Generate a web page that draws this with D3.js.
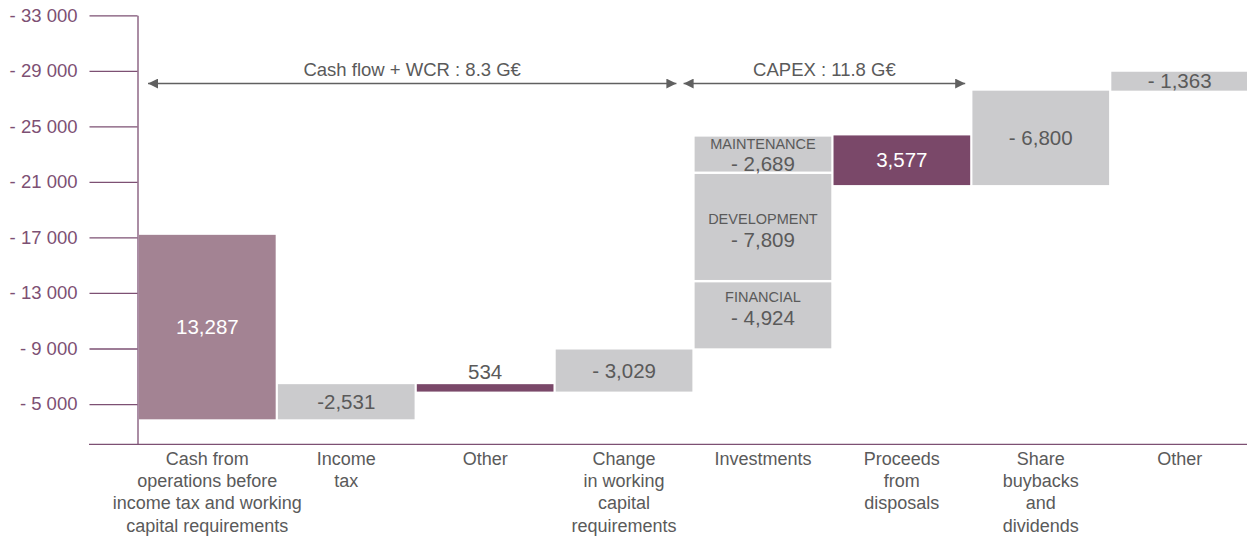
<!DOCTYPE html>
<html><head><meta charset="utf-8">
<script src="https://cdn.jsdelivr.net/npm/d3@7"></script>
<style>
html,body{margin:0;padding:0;background:#fff;}
svg{display:block;font-family:"Liberation Sans",Arial,Helvetica,sans-serif;}
</style></head><body>
<svg id="c" width="1247" height="538"></svg>
<script>
// ---- data ----
const categories = ["Cash from|operations before|income tax and working|capital requirements","Income|tax","Other","Change|in working|capital|requirements","Investments","Proceeds|from|disposals","Share|buybacks|and|dividends","Other "];
const startLevel = -3900;            // opening level (estimated)
const flowValues = [13287, -2531, 534, -3029, null, 3577, -6800, -1363];
const flowLabels = ["13,287","-2,531","534","- 3,029",null,"3,577","- 6,800","- 1,363"];
const investSegments = ["FINANCIAL","DEVELOPMENT","MAINTENANCE"];
const investValues = [-4924, -7809, -2689];
const investLabels = ["- 4,924","- 7,809","- 2,689"];
const yTicks = [-33000,-29000,-25000,-21000,-17000,-13000,-9000,-5000];
const annotations = [
  {text:"Cash flow + WCR : 8.3 G€", from:0, to:3},
  {text:"CAPEX : 11.8 G€", from:4, to:5}
];

// ---- styles ----
const cMauve="#a38393", cPurple="#7a4869", cGrey="#cbcbcd", cText="#5a5a5a", cAxis="#7d5073";

const svg=d3.select("#c");
const x=d3.scaleBand().domain(categories).range([139,1248]).paddingInner(0.016).paddingOuter(0);
const y=d3.scaleLinear().domain([-33000,-2100]).range([15.3,444.3]);

// axis
const yAxis=d3.axisLeft(y).tickValues(yTicks).tickSize(48).tickSizeOuter(0).tickPadding(12)
  .tickFormat(d=>"- "+d3.format(",")(Math.abs(d)).replace(/,/g," "));
const ga=svg.append("g").attr("transform","translate(137.5,0)").call(yAxis);
ga.selectAll("path,line").attr("stroke",cAxis).attr("stroke-width",1.3);
ga.selectAll("text").attr("fill",cAxis).attr("font-size",18.5).attr("font-family","Liberation Sans, Arial, sans-serif");
svg.append("line").attr("x1",89).attr("x2",1247).attr("y1",y(-2100)).attr("y2",y(-2100))
  .attr("stroke",cAxis).attr("stroke-width",1.3);

// bars
const bars=[];
let level=startLevel;
categories.forEach((cat,i)=>{
  if(i===0){
    bars.push({cat,y0:startLevel,y1:startLevel-flowValues[0],fill:cMauve,label:flowLabels[0],lc:"#fff"});
  } else if(flowValues[i]===null){
    investValues.forEach((v,j)=>{
      bars.push({cat,y0:level,y1:level+v,fill:cGrey,label:investLabels[j],sub:investSegments[j],lc:cText,seg:true});
      level+=v;
    });
  } else {
    const v=flowValues[i];
    bars.push({cat,y0:level,y1:level+v,fill:v>0?cPurple:cGrey,label:flowLabels[i],lc:v>0?"#fff":cText,small:Math.abs(v)<1000});
    level+=v;
  }
});

const g=svg.append("g");
bars.forEach(b=>{
  const top=Math.min(y(b.y0),y(b.y1)), bot=Math.max(y(b.y0),y(b.y1));
  const inset=b.seg?1.2:0;
  g.append("rect").attr("x",x(b.cat)).attr("width",x.bandwidth())
    .attr("y",top+inset).attr("height",Math.max(1,bot-top-2*inset)).attr("fill",b.fill);
  const cx=x(b.cat)+x.bandwidth()/2;
  if(b.small){
    g.append("text").attr("x",cx).attr("y",top-5).attr("text-anchor","middle")
      .attr("font-size",20.5).attr("fill",cText).text(b.label);
  } else if(b.seg){
    const h=bot-top, mid=(top+bot)/2;
    let subC, valC;
    if(h<45){ subC=top+8.5; valC=top+28.5; }
    else if(h<80){ subC=top+16; valC=top+37; }
    else { subC=mid-8; valC=mid+13; }
    g.append("text").attr("x",cx).attr("y",subC).attr("dy","0.35em").attr("text-anchor","middle")
      .attr("font-size",14.5).attr("fill",cText).text(b.sub);
    g.append("text").attr("x",cx).attr("y",valC).attr("dy","0.35em").attr("text-anchor","middle")
      .attr("font-size",20.5).attr("fill",cText).text(b.label);
  } else {
    g.append("text").attr("x",cx).attr("y",(top+bot)/2).attr("dy","0.35em").attr("text-anchor","middle")
      .attr("font-size",20.5).attr("fill",b.lc).text(b.label);
  }
});

// category labels
categories.forEach(cat=>{
  const cx=x(cat)+x.bandwidth()/2;
  const t=svg.append("text").attr("x",cx).attr("y",465).attr("text-anchor","middle")
    .attr("font-size",18).attr("fill",cText);
  cat.trim().split("|").forEach((ln,k)=>t.append("tspan").attr("x",cx).attr("y",465+k*22.2).text(ln));
});

// annotations
const defs=svg.append("defs");
defs.append("marker").attr("id","ah").attr("viewBox","0 0 10 10").attr("refX",10).attr("refY",5)
  .attr("markerWidth",11).attr("markerHeight",10).attr("markerUnits","userSpaceOnUse").attr("orient","auto-start-reverse")
  .append("path").attr("d","M0,0L10,5L0,10Z").attr("fill","#606060");
annotations.forEach((a,i)=>{
  const x1 = i===0 ? x(categories[a.from])+9 : x(categories[a.from])-11;
  const x2 = i===0 ? x(categories[a.to])+x.bandwidth()-16 : x(categories[a.to])+x.bandwidth()-5;
  const ay=y(-28080);
  svg.append("line").attr("x1",x1).attr("x2",x2).attr("y1",ay).attr("y2",ay)
    .attr("stroke","#606060").attr("stroke-width",1.5)
    .attr("marker-start","url(#ah)").attr("marker-end","url(#ah)");
  svg.append("text").attr("x",(x1+x2)/2).attr("y",ay-8).attr("text-anchor","middle")
    .attr("font-size",18.5).attr("fill",cText).text(a.text);
});
</script></body></html>
